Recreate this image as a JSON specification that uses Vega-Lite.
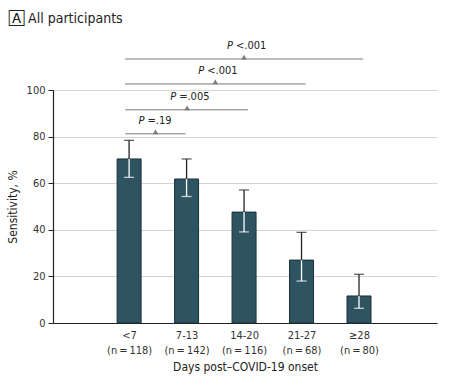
{
  "$schema": "https://vega.github.io/schema/vega-lite/v6.json",
  "width": 384,
  "height": 233,
  "autosize": "none",
  "padding": {"left": 53, "top": 90, "right": 22, "bottom": 61},
  "title": {"text": "🄰  All participants", "anchor": "start", "dx": 3, "offset": 14, "fontSize": 14, "fontWeight": "normal", "font": "DejaVu Sans Condensed, Lato", "color": "#222"},
  "datasets": {
    "bars": [
      {"pos": 1, "value": 70.4, "lo": 62.5, "hi": 78.4},
      {"pos": 2, "value": 61.8, "lo": 54.3, "hi": 70.4},
      {"pos": 3, "value": 47.6, "lo": 39.1, "hi": 57.1},
      {"pos": 4, "value": 27.0, "lo": 18.0, "hi": 38.9},
      {"pos": 5, "value": 11.6, "lo": 6.3, "hi": 20.9}
    ],
    "brackets": [
      {"x1": 0.93, "x2": 1.98, "mid": 1.46, "level": 81.2, "p": "=.19"},
      {"x1": 0.93, "x2": 3.07, "mid": 2.01, "level": 91.5, "p": "=.005"},
      {"x1": 0.93, "x2": 4.07, "mid": 2.5, "level": 102.6, "p": "<.001"},
      {"x1": 0.93, "x2": 5.07, "mid": 3.0, "level": 113.3, "p": "<.001"}
    ]
  },
  "encoding": {
    "x": {"type": "quantitative"},
    "y": {"type": "quantitative"}
  },
  "layer": [
    {
      "data": {"name": "bars"},
      "mark": {"type": "bar", "width": 24, "fill": "#2f5461", "stroke": "#1b3039", "strokeWidth": 1},
      "encoding": {
        "x": {"field": "pos", "type": "quantitative", "scale": {"domain": [-0.237, 6.27], "nice": false, "zero": false},
          "axis": {"values": [1, 2, 3, 4, 5], "title": "Days post–COVID-19 onset", "grid": false, "ticks": false, "domainColor": "#222", "domainWidth": 1.2,
            "labelExpr": "datum.value == 1 ? ['<7', '(n\u2009=\u2009118)'] : datum.value == 2 ? ['7-13', '(n\u2009=\u2009142)'] : datum.value == 3 ? ['14-20', '(n\u2009=\u2009116)'] : datum.value == 4 ? ['21-27', '(n\u2009=\u200968)'] : ['≥28', '(n\u2009=\u200980)']",
            "labelFontSize": 11, "labelColor": "#333", "labelPadding": 6, "labelLineHeight": 15, "titleFontSize": 12, "titleFontWeight": "normal", "titleColor": "#222", "titlePadding": 6, "labelFont": "DejaVu Sans Condensed, Lato", "titleFont": "DejaVu Sans Condensed, Lato"}},
        "y": {"field": "value", "type": "quantitative", "scale": {"domain": [0, 100], "nice": false},
          "axis": {"values": [0, 20, 40, 60, 80, 100], "title": "Sensitivity, %", "grid": true, "gridColor": "#d4d4d4", "domainColor": "#222", "domainWidth": 1.2, "tickColor": "#222", "tickSize": 5,
            "labelFontSize": 11, "labelColor": "#333", "labelPadding": 3, "titleFontSize": 12, "titleFontWeight": "normal", "titleColor": "#222", "titlePadding": 7, "labelFont": "DejaVu Sans Condensed, Lato", "titleFont": "DejaVu Sans Condensed, Lato"}}
      }
    },
    {
      "data": {"name": "bars"},
      "mark": {"type": "rule", "color": "white", "strokeWidth": 1.3},
      "encoding": {"x": {"field": "pos", "type": "quantitative"}, "y": {"field": "lo", "type": "quantitative"}, "y2": {"field": "value"}}
    },
    {
      "data": {"name": "bars"},
      "mark": {"type": "tick", "color": "white", "orient": "horizontal", "size": 10, "thickness": 1.3},
      "encoding": {"x": {"field": "pos", "type": "quantitative"}, "y": {"field": "lo", "type": "quantitative"}}
    },
    {
      "data": {"name": "bars"},
      "mark": {"type": "rule", "color": "#222", "strokeWidth": 1.3},
      "encoding": {"x": {"field": "pos", "type": "quantitative"}, "y": {"field": "value", "type": "quantitative"}, "y2": {"field": "hi"}}
    },
    {
      "data": {"name": "bars"},
      "mark": {"type": "tick", "color": "#222", "orient": "horizontal", "size": 10, "thickness": 1.3},
      "encoding": {"x": {"field": "pos", "type": "quantitative"}, "y": {"field": "hi", "type": "quantitative"}}
    },
    {
      "data": {"name": "brackets"},
      "mark": {"type": "rule", "color": "#7a7a7a", "strokeWidth": 1},
      "encoding": {"x": {"field": "x1", "type": "quantitative"}, "x2": {"field": "x2"}, "y": {"field": "level", "type": "quantitative"}}
    },
    {
      "data": {"name": "brackets"},
      "mark": {"type": "point", "shape": "triangle-up", "filled": true, "color": "#7a7a7a", "size": 30, "opacity": 1, "yOffset": -2},
      "encoding": {"x": {"field": "mid", "type": "quantitative"}, "y": {"field": "level", "type": "quantitative"}}
    },
    {
      "data": {"name": "brackets"},
      "mark": {"type": "text", "text": "P", "fontStyle": "italic", "align": "right", "baseline": "middle", "dx": -11, "dy": -13, "fontSize": 11, "font": "DejaVu Sans Condensed, Lato", "color": "#222"},
      "encoding": {"x": {"field": "mid", "type": "quantitative"}, "y": {"field": "level", "type": "quantitative"}}
    },
    {
      "data": {"name": "brackets"},
      "mark": {"type": "text", "align": "left", "baseline": "middle", "dx": -8, "dy": -13, "fontSize": 11, "font": "DejaVu Sans Condensed, Lato", "color": "#222"},
      "encoding": {"x": {"field": "mid", "type": "quantitative"}, "y": {"field": "level", "type": "quantitative"}, "text": {"field": "p"}}
    }
  ],
  "config": {"view": {"stroke": null}}
}
